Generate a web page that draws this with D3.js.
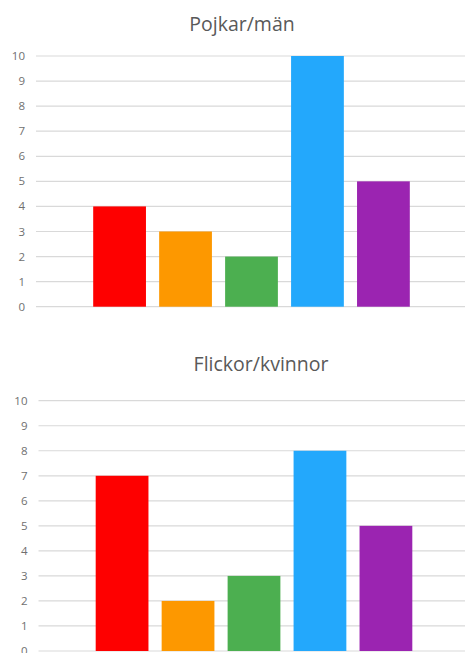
<!DOCTYPE html>
<html>
<head>
<meta charset="utf-8">
<script src="https://cdn.jsdelivr.net/npm/d3@7"></script>
<style>
  body { margin: 0; background: #fff; }
  svg { display: block; font-family: "Open Sans", sans-serif; }
</style>
</head>
<body>
<div id="chart"></div>
<script>
// data
const categories = ["A", "B", "C", "D", "E"];
const boysValues = [4, 3, 2, 10, 5];
const girlsValues = [7, 2, 3, 8, 5];
const colors = ["#fe0000", "#fd9800", "#4caf50", "#23a8fc", "#9b24b1"];
const yTicks = [0, 1, 2, 3, 4, 5, 6, 7, 8, 9, 10];

const width = 465, height = 653;

const svg = d3.select("#chart")
  .append("svg")
    .attr("width", width)
    .attr("height", height);

function panel(values, title, opt) {
  const g = svg.append("g");

  const x = d3.scaleBand()
    .domain(categories)
    .range([opt.left + 44, opt.left + 387])
    .padding(0.2);

  const y = d3.scaleLinear()
    .domain([0, 10])
    .range([opt.bottom, opt.top]);

  // gridlines
  g.append("g")
    .selectAll("line")
    .data(yTicks)
    .join("line")
      .attr("x1", opt.left)
      .attr("x2", width)
      .attr("y1", d => y(d))
      .attr("y2", d => y(d))
      .attr("stroke", "#d9d9d9")
      .attr("stroke-width", 1.2);

  // tick labels
  g.append("g")
    .attr("font-size", 11.5)
    .attr("fill", "#707070")
    .attr("text-anchor", "end")
    .selectAll("text")
    .data(yTicks)
    .join("text")
      .attr("x", opt.left - 11)
      .attr("y", d => y(d))
      .attr("dy", "0.35em")
      .text(d => d);

  g.append("g")
    .selectAll("rect")
    .data(values)
    .join("rect")
      .attr("x", (d, i) => x(categories[i]))
      .attr("y", d => y(d))
      .attr("width", x.bandwidth())
      .attr("height", d => y(0) - y(d))
      .attr("fill", (d, i) => colors[i]);

  g.append("text")
    .attr("x", opt.titleX)
    .attr("y", opt.titleY)
    .attr("text-anchor", "middle")
    .attr("font-size", 19.5)
    .attr("fill", "#595959")
    .text(title);
}

panel(boysValues, "Pojkar/män", {left: 36, top: 56, bottom: 306.7, titleX: 242, titleY: 31});
panel(girlsValues, "Flickor/kvinnor", {left: 38.5, top: 400.7, bottom: 651, titleX: 261, titleY: 371});
</script>
</body>
</html>
